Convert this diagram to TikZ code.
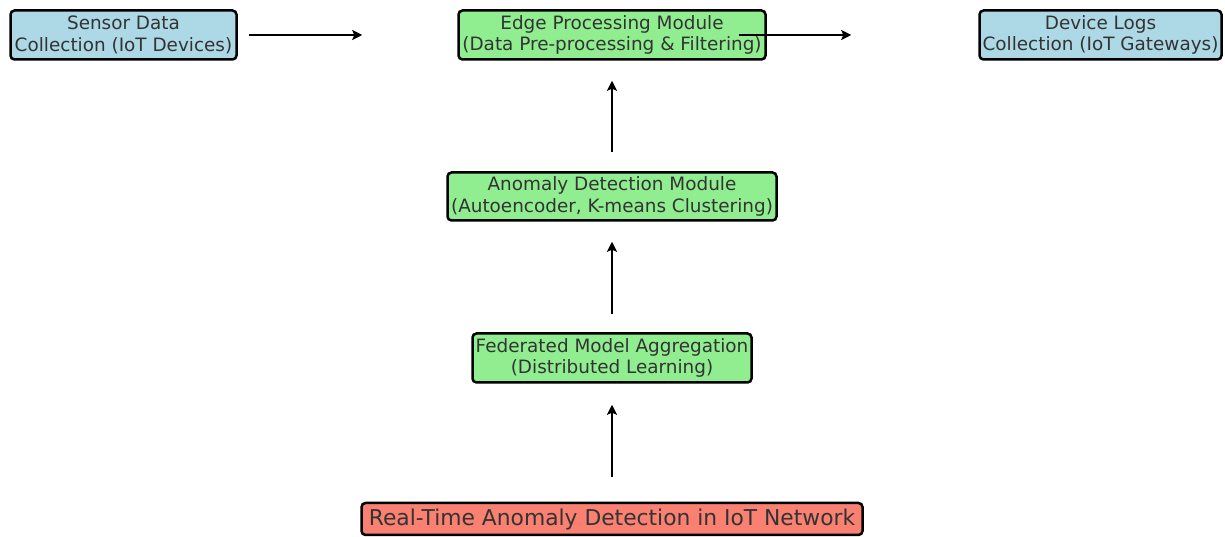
\documentclass[tikz,border=0pt]{standalone}
\usepackage{fontspec}
\setmainfont{DejaVu Sans}
\usetikzlibrary{arrows.meta}
\definecolor{lblue}{HTML}{ADD8E6}
\definecolor{lgreen}{HTML}{90EE90}
\definecolor{salmon}{HTML}{FA8072}
\definecolor{txt}{HTML}{333333}
\tikzset{
  box/.style={draw=black, line width=2.5pt, rounded corners=4pt, inner sep=0pt,
    align=center, text=txt, font=\fontsize{18.4}{21.5}\selectfont},
  arr/.style={line width=2.2pt, -{Stealth[length=10pt,width=10pt,inset=2pt]}}
}
\begin{document}
\begin{tikzpicture}[x=1pt,y=1pt]
\useasboundingbox[fill=white] (0,0) rectangle (1225,537);
\node[box, fill=lblue, minimum width=226, minimum height=49] (sensor) at (123.5,502) {Sensor Data\\Collection (IoT Devices)};
\node[box, fill=lgreen, minimum width=307, minimum height=49] (edge) at (612,502) {Edge Processing Module\\(Data Pre-processing \& Filtering)};
\node[box, fill=lblue, minimum width=242, minimum height=49] (logs) at (1100.5,502) {Device Logs\\Collection (IoT Gateways)};
\node[box, fill=lgreen, minimum width=329, minimum height=48] (anom) at (612,340.5) {Anomaly Detection Module\\(Autoencoder, K-means Clustering)};
\node[box, fill=lgreen, minimum width=279, minimum height=49] (fed) at (612,179) {Federated Model Aggregation\\(Distributed Learning)};
\node[box, fill=salmon, minimum width=501, minimum height=32, font=\fontsize{21.8}{26}\selectfont] (rt) at (612,18) {Real-Time Anomaly Detection in IoT Network};
\draw[arr, shorten <=11pt, shorten >=95pt] (sensor.east) -- (edge.west);
\draw[arr, shorten <=-28pt, shorten >=127pt] (edge.east) -- (logs.west);
\draw[arr, shorten <=19pt, shorten >=20pt] (anom.north) -- (edge.south);
\draw[arr, shorten <=18pt, shorten >=20pt] (fed.north) -- (anom.south);
\draw[arr, shorten <=25pt, shorten >=21pt] (rt.north) -- (fed.south);
\end{tikzpicture}
\end{document}
